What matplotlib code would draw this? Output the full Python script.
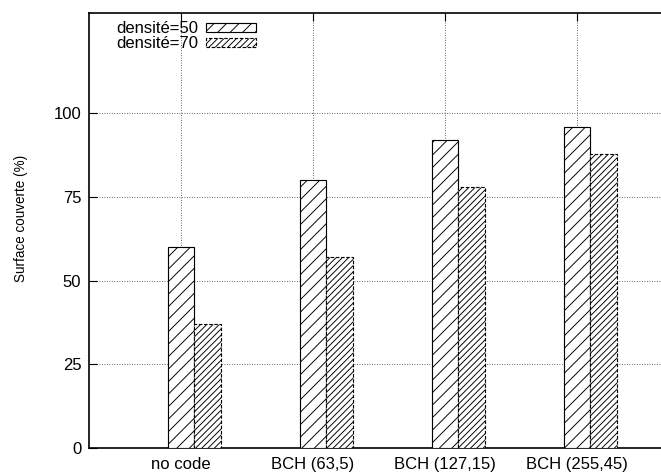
import numpy as np
import matplotlib
matplotlib.use('Agg')
from matplotlib import pyplot as plt

# Values
categories = ['no code', 'BCH (63,5)', 'BCH (127,15)', 'BCH (255,45)']
densite_50 = [60, 80, 92, 96]
densite_70 = [37, 57, 78, 88]
y_ticks = [0, 25, 50, 75, 100]

plt.rcParams['font.family'] = ['Liberation Sans', 'DejaVu Sans']
plt.rcParams['hatch.linewidth'] = 0.9

dpi = 75
fig = plt.figure(figsize=(661 / dpi, 472 / dpi), dpi=dpi)
ax = fig.add_axes([88.6 / 661, 24 / 472, 580.8 / 661, 435 / 472])

x = np.arange(len(categories))
w = 0.2

ax.bar(x, densite_50, width=w, facecolor='white', edgecolor='black',
       hatch='//', linewidth=1.1, zorder=3, label='densité=50')
ax.bar(x + w, densite_70, width=w, facecolor='white', edgecolor='black',
       hatch='////', linewidth=1.1, linestyle=(0, (3, 1.5)), zorder=3, label='densité=70')

ax.set_xlim(-0.7, 3.7)
ax.set_ylim(0, 130)
ax.set_xticks(x)
ax.set_xticklabels(categories, fontsize=16)
ax.set_yticks(y_ticks)
ax.set_yticklabels([str(v) for v in y_ticks], fontsize=16)

ax.tick_params(axis='both', direction='in', length=7.5, width=1.1, top=True, right=True)
ax.tick_params(axis='x', pad=9)
ax.tick_params(axis='y', pad=7)
for s in ax.spines.values():
    s.set_linewidth(1.6)

ax.grid(True, linestyle=(0, (1, 2)), color='#333333', linewidth=0.8, zorder=0)
ax.set_axisbelow(True)

ax.set_ylabel('Surface couverte (%)', fontsize=13)
ax.yaxis.set_label_coords(-0.104, 0.529)

ax.legend(loc='upper left', bbox_to_anchor=(0.047, 0.981), frameon=False,
          markerfirst=False, fontsize=16, handlelength=3.0, handleheight=0.42,
          handletextpad=0.48, labelspacing=0.0, borderpad=0, borderaxespad=0)

fig.savefig('out.png', dpi=dpi)
